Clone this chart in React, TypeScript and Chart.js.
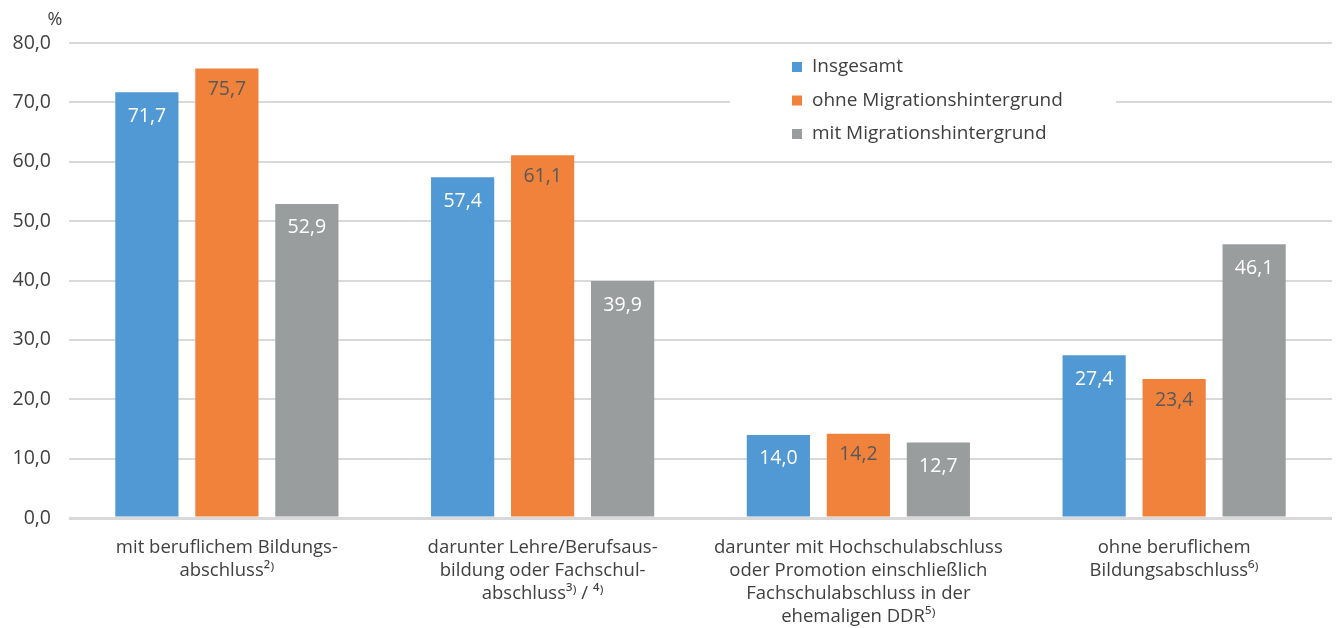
import React, { useEffect, useRef } from "react";
import { Chart, registerables } from "chart.js";

Chart.register(...registerables);

const categories: string[][] = [
  ["mit beruflichem Bildungs-", "abschluss²⁾"],
  ["darunter Lehre/Berufsaus-", "bildung oder Fachschul-", "abschluss³⁾ / ⁴⁾"],
  ["darunter mit Hochschulabschluss", "oder Promotion einschließlich", "Fachschulabschluss in der", "ehemaligen DDR⁵⁾"],
  ["ohne beruflichem", "Bildungsabschluss⁶⁾"],
];

const seriesNames = ["Insgesamt", "ohne Migrationshintergrund", "mit Migrationshintergrund"];
const insgesamt = [71.7, 57.4, 14.0, 27.4];
const ohneMigration = [75.7, 61.1, 14.2, 23.4];
const mitMigration = [52.9, 39.9, 12.7, 46.1];

const colors = ["#5199d4", "#f1823c", "#9a9d9e"];
const labelColors = ["#ffffff", "#595959", "#ffffff"];

const FONT = "'Open Sans', 'Noto Sans', sans-serif";
const fmt = (v: number) => v.toFixed(1).replace(".", ",");

const valueLabelPlugin = {
  id: "valueLabels",
  afterDatasetsDraw(chart: any) {
    const ctx = chart.ctx;
    ctx.save();
    ctx.font = `19.5px ${FONT}`;
    ctx.textAlign = "center";
    ctx.textBaseline = "middle";
    chart.data.datasets.forEach((ds: any, di: number) => {
      const meta = chart.getDatasetMeta(di);
      meta.data.forEach((el: any, i: number) => {
        ctx.fillStyle = labelColors[di];
        ctx.fillText(fmt(ds.data[i]), el.x, el.y + (di === 1 ? 21 : 24));
      });
    });
    ctx.restore();
  },
};

const legendPlugin = {
  id: "insideLegend",
  beforeDatasetsDraw(chart: any) {
    const ctx = chart.ctx;
    ctx.save();
    ctx.fillStyle = "#ffffff";
    ctx.fillRect(730, 52, 386, 98);
    ctx.font = `19px ${FONT}`;
    ctx.textAlign = "left";
    ctx.textBaseline = "middle";
    chart.data.datasets.forEach((ds: any, di: number) => {
      const y = 67 + di * 33.5;
      ctx.fillStyle = ds.backgroundColor;
      ctx.fillRect(792, y - 5, 10, 10);
      ctx.fillStyle = "#404040";
      ctx.fillText(ds.label, 812, y);
    });
    ctx.restore();
  },
  afterDraw(chart: any) {
    const ctx = chart.ctx;
    ctx.save();
    ctx.font = `18px ${FONT}`;
    ctx.textAlign = "center";
    ctx.textBaseline = "middle";
    ctx.fillStyle = "#404040";
    ctx.fillText("%", 55, 20);
    ctx.restore();
  },
};

export default function App() {
  const ref = useRef<HTMLCanvasElement>(null);
  useEffect(() => {
    if (!ref.current) return;
    const values = [insgesamt, ohneMigration, mitMigration];
    const chart = new Chart(ref.current, {
      type: "bar",
      data: {
        labels: categories,
        datasets: values.map((d, i) => ({
          label: seriesNames[i],
          data: d,
          backgroundColor: colors[i],
          categoryPercentage: 0.76,
          barPercentage: 0.79,
        })),
      },
      options: {
        animation: false,
        responsive: true,
        maintainAspectRatio: false,
        layout: { padding: { top: 43, right: 6, left: 0, bottom: 0 } },
        plugins: {
          legend: { display: false },
          tooltip: { enabled: false },
        },
        scales: {
          x: {
            grid: { display: false },
            border: { display: false },
            ticks: {
              color: "#404040",
              font: { family: FONT, size: 18.5, lineHeight: 1.24 },
              padding: 10,
              maxRotation: 0,
              autoSkip: false,
            },
            afterFit: (s: any) => {
              s.height = 110;
            },
          },
          y: {
            min: 0,
            max: 80,
            border: { display: false },
            grid: {
              color: "#d9d9d9",
              lineWidth: (c: any) => (c.tick && c.tick.value === 0 ? 3 : 2),
              drawTicks: false,
            },
            ticks: {
              stepSize: 10,
              color: "#404040",
              font: { family: FONT, size: 19.5 },
              padding: 18,
              callback: (v: any) => fmt(Number(v)),
            },
            afterFit: (s: any) => {
              s.width = 69;
            },
          },
        },
      },
      plugins: [valueLabelPlugin, legendPlugin],
    });
    return () => chart.destroy();
  }, []);
  return (
    <div style={{ position: "absolute", left: 0, top: 0, width: 1338, height: 628, background: "#fff" }}>
      <canvas ref={ref} />
    </div>
  );
}
